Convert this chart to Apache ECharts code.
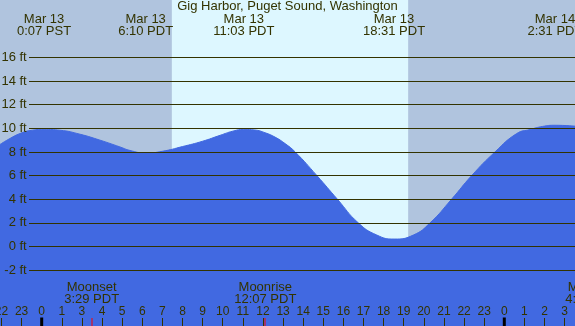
<!DOCTYPE html>
<html>
<head>
<meta charset="utf-8">
<script src="https://cdn.jsdelivr.net/npm/echarts@6/dist/echarts.min.js"></script>
<style>
  html, body { margin: 0; padding: 0; background: #b0c4de; }
  #chart { width: 575px; height: 326px; }
</style>
</head>
<body>
<div id="chart"></div>
<script>
// hours elapsed since Mar 13 0:00 PST (DST starts at 2:00 PST)
const tideHours = [-2.08, -1.58, -1.08, -0.58, 0.12, 0.91, 1.91, 2.9, 3.89, 4.39, 5.17, 6.0, 7.0, 8.0, 8.87, 9.5, 10.05,
  10.6, 11.1, 11.6, 12.1, 12.6, 13.68, 14.7, 15.74, 16.66, 17.52, 18.48, 19.31, 20.38, 21.38, 22.54, 23.62, 24.28, 24.9, 25.52, 26.55];
const tideFeet = [8.62, 9.13, 9.55, 9.8, 9.9, 9.83, 9.49, 8.99, 8.42, 8.12, 7.9, 8.05, 8.45, 8.9, 9.4, 9.75, 9.9,
  9.85, 9.62, 9.25, 8.7, 8.0, 6.0, 4.0, 2.0, 0.97, 0.63, 0.97, 2.0, 4.0, 6.0, 8.0, 9.55, 9.89, 10.15, 10.25, 10.17];

const extremeHours = [0.117, 5.167, 10.05, 17.517, 25.517];
const extremeDates = ["Mar 13", "Mar 13", "Mar 13", "Mar 13", "Mar 14"];
const extremeTimes = ["0:07 PST", "6:10 PDT", "11:03 PDT", "18:31 PDT", "2:31 PDT"];

const moonHours = [2.483, 11.117, 27.4];
const moonNames = ["Moonset", "Moonrise", "Moonset"];
const moonTimes = ["3:29 PDT", "12:07 PDT", "4:24 PDT"];

const sunHours = [6.47, 18.22];   // sunrise, sunset
const midnightHours = [0, 23];

const textColor = "#333300";
const font = '13px "Liberation Sans", Arial, sans-serif';

// clock hour shown under each elapsed hour tick
const hourLabel = v => {
  if (v < 2) return String((v + 24) % 24);
  return String((v + 1) % 24);
};

const txt = (x, y, text, color) => ({
  type: "text",
  x: x,
  y: y,
  style: { text: text, fill: color || textColor, font: font, align: "center", verticalAlign: "middle" }
});

const chart = echarts.init(document.getElementById("chart"));

const option = {
  backgroundColor: "#b0c4de",
  animation: false,
  grid: [
    // full picture, hour axis; 0 h at x=41.7, 20.11 px per hour
    { left: -18.64, right: -9.75, top: 0, bottom: 0, containLabel: false, outerBoundsMode: "none" },
    // feet gridlines, 16 ft at y=57.3, -2 ft at y=270.2
    { left: 29, right: 0, top: 57.3, bottom: 55.8, containLabel: false, outerBoundsMode: "none" }
  ],
  xAxis: [
    {
      gridIndex: 0,
      type: "value",
      min: -3,
      max: 27,
      interval: 1,
      z: 10,
      position: "bottom",
      axisLine: { show: false, onZero: false },
      splitLine: { show: false },
      axisTick: { inside: true, length: 8, lineStyle: { color: textColor, width: 1 } },
      axisLabel: {
        inside: true,
        margin: 14.5,
        verticalAlign: "middle",
        color: textColor,
        fontFamily: "Liberation Sans",
        fontSize: 12,
        formatter: hourLabel
      }
    },
    { gridIndex: 1, type: "value", min: 0, max: 1, show: false }
  ],
  yAxis: [
    { gridIndex: 0, type: "value", min: -6.72, max: 20.84, show: false },
    {
      gridIndex: 1,
      type: "value",
      min: -2,
      max: 16,
      interval: 2,
      z: 10,
      axisLine: { show: false },
      axisTick: { show: false },
      splitLine: { show: true, lineStyle: { color: textColor, width: 1 } },
      axisLabel: {
        margin: 2.3,
        color: textColor,
        fontFamily: "Liberation Sans",
        fontSize: 13,
        formatter: "{value} ft"
      }
    }
  ],
  series: [
    {
      // daylight band
      type: "custom",
      xAxisIndex: 0,
      yAxisIndex: 0,
      z: 1,
      data: [[sunHours[0], sunHours[1]]],
      encode: { x: [0, 1] },
      renderItem: function (params, api) {
        const x0 = api.coord([api.value(0), 0])[0];
        const x1 = api.coord([api.value(1), 0])[0];
        return { type: "rect", shape: { x: x0, y: 0, width: x1 - x0, height: 326 }, style: { fill: "#ddf7ff" } };
      }
    },
    {
      name: "tide",
      type: "line",
      xAxisIndex: 0,
      yAxisIndex: 0,
      z: 2,
      smooth: 0.5,
      symbol: "none",
      lineStyle: { color: "#4169e1", width: 1 },
      areaStyle: { color: "#4169e1", opacity: 1, origin: "start" },
      data: tideHours.map((t, i) => [t, tideFeet[i]])
    },
    {
      // tide extreme labels on top
      type: "custom",
      xAxisIndex: 0,
      yAxisIndex: 0,
      z: 11,
      data: extremeHours.map(t => [t, 0]),
      renderItem: function (params, api) {
        const x = api.coord([api.value(0), 0])[0];
        const i = params.dataIndex;
        return {
          type: "group",
          children: [txt(x, 19.5, extremeDates[i]), txt(x, 31.7, extremeTimes[i])]
        };
      }
    },
    {
      // moon rise / set labels and red ticks
      type: "custom",
      xAxisIndex: 0,
      yAxisIndex: 0,
      z: 11,
      data: moonHours.map(t => [t, 0]),
      renderItem: function (params, api) {
        const x = api.coord([api.value(0), 0])[0];
        const i = params.dataIndex;
        return {
          type: "group",
          children: [
            txt(x, 287.8, moonNames[i]),
            txt(x, 299.5, moonTimes[i]),
            { type: "rect", shape: { x: Math.round(x) - 0.5, y: 318, width: 1, height: 8 }, style: { fill: "#ff0000" } }
          ]
        };
      }
    },
    {
      // midnight ticks
      type: "custom",
      xAxisIndex: 0,
      yAxisIndex: 0,
      z: 12,
      data: midnightHours.map(t => [t, 0]),
      renderItem: function (params, api) {
        const x = api.coord([api.value(0), 0])[0];
        return { type: "rect", shape: { x: x - 1.5, y: 317.5, width: 3, height: 8.5 }, style: { fill: "#000000" } };
      }
    }
  ],
  graphic: [
    {
      type: "text",
      left: "center",
      top: 0,
      z: 20,
      style: { text: "Gig Harbor, Puget Sound, Washington", fill: textColor, font: font }
    }
  ]
};

chart.setOption(option);
</script>
</body>
</html>
